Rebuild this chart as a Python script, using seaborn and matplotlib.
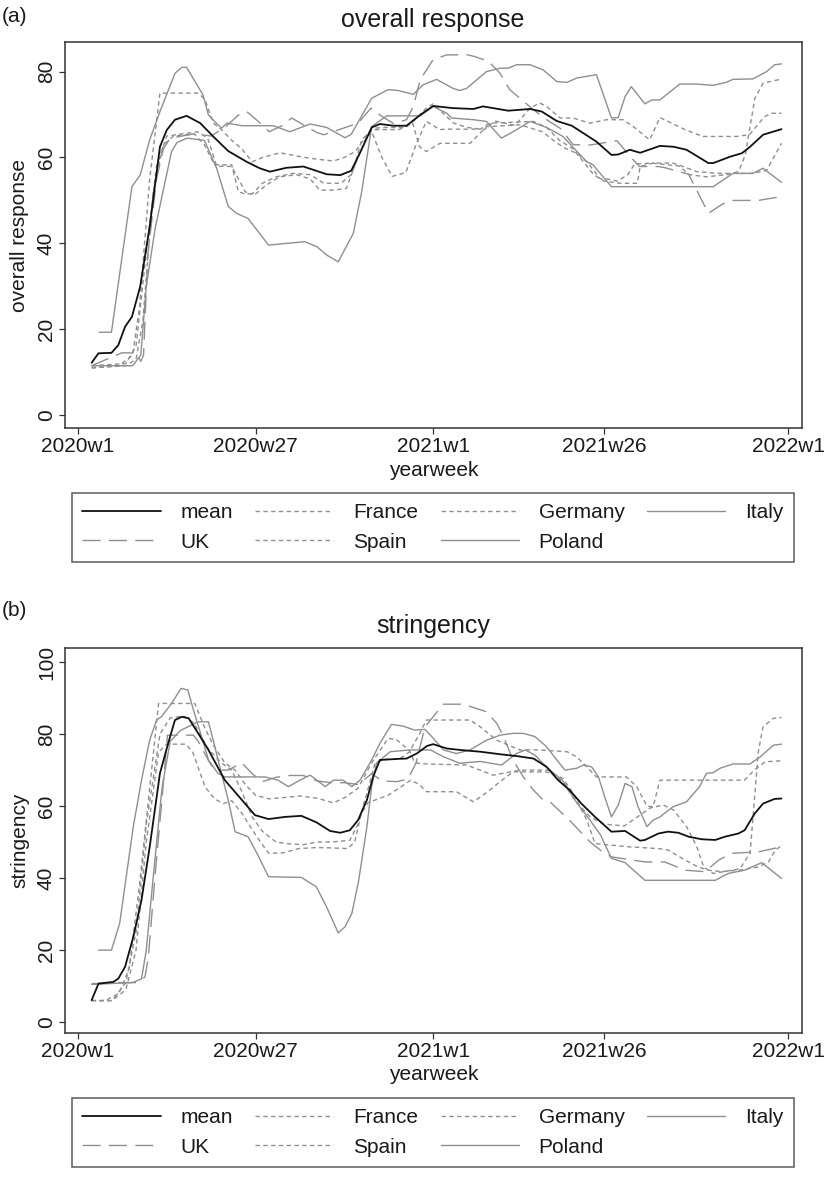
import matplotlib
matplotlib.use("Agg")
import matplotlib.pyplot as plt
import seaborn as sns
import pandas as pd

# ---------------- data (week index: 0 = 2020w1, 52 = 2021w1, 104 = 2022w1) ----------------
tick_weeks = [0, 26, 52, 77, 104]
tick_labels = ["2020w1", "2020w27", "2021w1", "2021w26", "2022w1"]
series_names = ["mean", "France", "Germany", "Italy", "UK", "Spain", "Poland"]

# panel (a): overall response
resp_mean_wk = [2, 3, 4.9, 5.9, 6.9, 7.9, 9.1, 10.5, 12, 13, 14.2, 15.9, 17.9, 19.8, 22, 24.7, 26.6, 28.1, 30.5, 33, 36.4, 38.4, 40, 41.5, 43, 44.2, 46.2, 48.1, 50.1, 52, 54.9, 57.9, 59.3, 63, 66.2, 67.9, 70.1, 72.3, 75.9, 78.1, 79.1, 80.8, 82.3, 85.2, 87.2, 89.1, 92.3, 93, 95.5, 97.2, 98.4, 100.3, 103]
resp_mean_val = [12.2, 14.4, 14.5, 16.3, 20.6, 22.9, 29.9, 43.9, 62.5, 66.4, 68.8, 69.7, 68.0, 64.9, 61.5, 59.0, 57.5, 56.7, 57.6, 57.9, 56.1, 55.9, 56.9, 61.8, 67.0, 67.8, 67.4, 67.4, 69.9, 72.0, 71.5, 71.3, 71.9, 70.9, 71.3, 70.7, 68.5, 67.4, 63.7, 60.6, 60.7, 61.8, 61.1, 62.7, 62.5, 61.8, 58.7, 58.7, 60.2, 61.0, 62.5, 65.3, 66.6]

resp_italy_wk = [3.1, 4.9, 7.9, 9.1, 10.5, 12, 14.2, 15.2, 15.9, 18.3, 19.1, 21, 21.8, 24, 28.6, 31, 34, 36.4, 39.1, 40, 43, 45.4, 46.9, 49.1, 50.5, 52.5, 54.9, 55.9, 56.9, 59.8, 61.8, 63, 64.2, 66.2, 68.1, 70.1, 71.6, 73, 75.9, 78.1, 79.1, 80.1, 81, 83, 84, 85.2, 88.1, 90.6, 93, 94.9, 95.9, 98.8, 100.8, 102, 103]
resp_italy_val = [19.3, 19.3, 53.2, 55.9, 64.1, 70.7, 79.6, 81, 81, 74.6, 69.9, 66.8, 68, 67.4, 67.4, 66, 67.8, 67, 64.6, 65.4, 73.8, 75.8, 75.6, 74.7, 76.9, 78.2, 76.1, 75.6, 76.1, 80, 80.8, 80.8, 81.6, 81.6, 80.4, 77.7, 77.5, 78.5, 79.3, 69.2, 69.3, 74.2, 76.5, 72.5, 73.4, 73.4, 77.1, 77.1, 76.8, 77.5, 78.2, 78.3, 80, 81.6, 81.8]

resp_poland_wk = [2, 8, 9.2, 10, 11.3, 13.7, 14.5, 16, 18.5, 20.3, 22, 23.2, 24.9, 27.9, 33.2, 35, 36.4, 38.1, 40.3, 41.5, 43, 45.2, 50.1, 52, 54, 54.7, 57.9, 59.8, 62, 63.7, 66.2, 68.6, 71, 74.5, 75.4, 78.1, 93, 95.9, 98.8, 100.3, 103]
resp_poland_val = [11.5, 11.5, 14, 30, 43.5, 61.4, 63.5, 64.5, 64, 57.5, 48.6, 47, 45.8, 39.6, 40.4, 39.2, 37.3, 35.7, 42.3, 51.7, 67.2, 69.7, 69.7, 71.9, 70.3, 69.2, 68.8, 68.4, 64.5, 66, 68.4, 67, 64.9, 59, 58.3, 53.2, 53.2, 56.3, 56.3, 57.5, 54.2]

resp_uk_wk = [2, 6.4, 8.5, 9.2, 9.6, 10.2, 11.5, 12.5, 13.5, 17, 19.5, 21.5, 23.5, 24.7, 26.4, 28, 30, 31.3, 33, 35, 36, 38.8, 41, 42.9, 44.2, 46.2, 48.1, 49.1, 50.1, 52, 54, 57.1, 58.1, 60.1, 61.8, 63.2, 64.7, 66.7, 68.6, 70.6, 72.5, 74.9, 78.9, 81.1, 82.2, 85, 86, 89.4, 92.3, 94.2, 95.5, 99.6, 103]
resp_uk_val = [11.5, 14.5, 14.5, 12.5, 14, 37, 55, 62, 64.5, 65.5, 65, 67, 69.9, 70.7, 68.4, 66, 67.5, 69.2, 67.6, 65.8, 65.3, 66.8, 68, 71.5, 69.9, 67.9, 68.8, 71.9, 78.1, 82.8, 83.9, 83.9, 83.5, 82.4, 79.6, 75.8, 73.8, 71.1, 68.8, 66.8, 63, 62.9, 63.9, 59.8, 57.9, 57.9, 57.6, 56.1, 47, 49, 50, 50, 50.9]

resp_france_wk = [2, 6, 8, 9, 10.5, 12, 17.6, 18.6, 19.8, 21, 22.5, 24, 25.5, 27, 29.6, 32.5, 35, 37.4, 39, 40.6, 43, 45, 48, 49.5, 51, 52, 53, 55, 57, 59.5, 61, 64, 66.2, 67.6, 68.6, 70.6, 72.5, 74.9, 77.4, 79.8, 81.3, 83.7, 85.2, 89, 91.5, 96.4, 98.3, 100.5, 101.5, 103]
resp_france_val = [11, 11.5, 14, 25, 55, 75, 75, 73.5, 68, 66.5, 64, 62, 59, 60, 61.1, 60.2, 59.6, 59.2, 60, 61.4, 66.8, 67, 67, 69, 71.5, 72.5, 71, 68, 67, 66.5, 68.5, 67.5, 71.5, 72.7, 71.9, 69.2, 69.2, 68, 68.8, 68.8, 67.2, 64.1, 69.3, 66.4, 64.9, 64.9, 65.3, 69.5, 70.3, 70.3]

resp_germany_wk = [2, 7, 8.5, 10, 11.5, 13, 17.5, 19, 20.3, 22.5, 23.5, 24.5, 25.5, 27, 29, 31.5, 34, 36, 38.5, 40, 42, 43, 44.5, 46, 48, 49.5, 51, 53, 54, 58.9, 60.3, 66.7, 68.6, 70.5, 72.5, 74, 75.5, 77, 79.3, 81.9, 82.3, 84.2, 87.1, 88.6, 90.6, 93.9, 98.8, 100.8, 103]
resp_germany_val = [11.5, 12, 16, 38, 58, 65, 66, 64.5, 58, 57.9, 55, 52, 51.5, 54, 55.5, 56.3, 56, 54, 54, 56, 64, 66, 60, 55.6, 56.5, 63, 68.4, 66.5, 66.6, 66.6, 68, 68.4, 67, 64, 62, 59, 56, 54.5, 54, 54, 57.9, 58.7, 58.7, 57.9, 56.7, 56.3, 56.3, 57, 63.3]

resp_spain_wk = [2, 7, 8.5, 9.5, 11, 12.5, 14, 17, 18.5, 20, 22.5, 23.5, 24.5, 26, 27.5, 29.5, 32, 34, 35.4, 37.4, 39.3, 40.5, 41.5, 43, 47, 49, 50, 51, 53, 57.4, 59.8, 64.7, 66, 68, 70, 71.5, 73, 74.5, 75.5, 76.5, 77.5, 79, 80.5, 81.5, 84, 88, 89.5, 92, 95, 96.7, 97.7, 99.1, 100.3, 102.5, 103]
resp_spain_val = [11, 11.5, 13, 22, 52, 63, 65, 65.5, 63, 58.3, 58.3, 52, 51.5, 51.5, 53.5, 55.5, 56, 55, 52.4, 52.4, 52.8, 58, 64, 66.5, 66.5, 68, 62.5, 61.4, 63.3, 63.3, 67.2, 67.6, 67, 66, 63.5, 62, 61, 59, 57, 55, 55, 54.5, 56, 58.5, 58.7, 58, 56, 55.5, 56, 56.7, 60.6, 73.8, 77.3, 78.1, 78.1]

# panel (b): stringency
str_mean_wk = [2, 3, 5.2, 5.9, 6.9, 8.1, 9.3, 10.5, 12, 13.2, 14.2, 15.2, 16.2, 17.6, 19.1, 21.5, 24, 25.9, 27.9, 30.3, 32.7, 34.9, 36.9, 38.4, 39.8, 41, 42.3, 43.2, 44.2, 46.7, 48.1, 49.6, 51.1, 52, 54, 55.9, 58.9, 61.8, 64.2, 66.7, 68.6, 70.3, 72, 73.7, 75.7, 78.1, 80.1, 82.3, 83, 85, 86.4, 87.9, 89.4, 91.3, 93.3, 94.7, 96.7, 97.6, 99.1, 100.3, 102, 103]
str_mean_val = [6.1, 10.7, 11.2, 12.1, 15.4, 23.7, 33.9, 48.7, 69.1, 77.4, 83.9, 84.8, 84.4, 80.2, 75.6, 67.2, 61.7, 57.5, 56.4, 57, 57.3, 55.5, 53.1, 52.6, 53.3, 56.1, 61.7, 68.1, 72.8, 73.1, 73.2, 74.6, 76.7, 77.2, 76, 75.6, 75.1, 74.4, 73.9, 73.2, 70.9, 67.2, 64.4, 60.7, 57, 52.9, 53.1, 50.4, 50.6, 52.4, 52.9, 52.6, 51.5, 50.8, 50.6, 51.5, 52.4, 53.3, 58, 60.7, 62, 62.1]

str_italy_wk = [3, 4.9, 6.1, 8.1, 9.3, 10.5, 11.5, 12.2, 13.7, 15.1, 16.1, 16.9, 18.1, 19.1, 20.5, 21.5, 27.4, 29.3, 30.8, 32.5, 34, 36.2, 37.4, 38.8, 40.1, 41.3, 43, 44.2, 45.9, 47.6, 49.3, 50.8, 51.8, 53.5, 55.4, 57.4, 59.8, 61.8, 63.7, 65.2, 66.9, 68.6, 70.1, 71.3, 73, 74, 75.2, 76.2, 77.2, 78.1, 79.1, 80.1, 81.1, 82, 83.3, 84.2, 85.2, 87.1, 89.1, 91, 92, 93, 94, 95.9, 98.4, 99.9, 101.8, 103]
str_italy_val = [20, 20, 27.4, 54.3, 67.2, 78.3, 83.9, 84.8, 88.5, 92.7, 92.2, 86.7, 79.3, 72.8, 69.1, 68.1, 68.1, 67.2, 65.4, 67.2, 68.6, 65.4, 67.2, 67.2, 65.4, 67.2, 72.8, 77.4, 82.7, 82.2, 81.1, 81.3, 79.3, 75.6, 74.6, 75.6, 78.3, 79.7, 80.2, 80.2, 79.3, 76.5, 72.8, 70, 70.5, 71.4, 70.9, 68.1, 62.1, 57, 60.3, 66.3, 65.4, 59.8, 54.3, 56.1, 57, 59.8, 61.2, 65.4, 69.1, 69.3, 70.5, 71.7, 71.7, 73.7, 76.9, 77.2]

str_poland_wk = [2, 8, 9.3, 10, 11, 12.3, 13.5, 15, 17.6, 19.1, 19.8, 21, 22, 23, 24.9, 26.2, 27.9, 32.7, 34.9, 36.4, 38.1, 39.1, 40.1, 41.1, 42.3, 43, 43.7, 45.7, 48.6, 51.6, 53.5, 55.9, 58.9, 62, 64.2, 65.5, 67, 68.5, 71, 73, 75, 76.5, 78.1, 80.1, 83, 93.3, 95.2, 97.6, 100.1, 103]
str_poland_val = [10.5, 11, 12, 20, 40, 65, 78, 81, 83.4, 83.4, 78.3, 69.1, 61.7, 52.9, 51.5, 46.9, 40.4, 40.2, 37.6, 32, 24.8, 26.5, 30.2, 39.4, 54.3, 65.4, 71.9, 75.1, 75.6, 75.6, 73.7, 71.9, 72.4, 71.4, 74.6, 75.6, 74, 71, 67, 61, 56, 52, 45.5, 44.3, 39.4, 39.4, 41.3, 42.2, 44.3, 39.9]

str_uk_wk = [2, 5.2, 8.6, 9.8, 10.3, 11.3, 12.3, 13.1, 16.9, 17.6, 19.3, 20, 22, 24, 25.5, 27, 29, 31, 33, 35, 37, 39, 41, 43, 44.5, 46.7, 48.3, 49.5, 50.8, 53.5, 56.4, 59.8, 61.3, 62.3, 63.7, 65.2, 66.7, 68.1, 69.1, 72, 75, 77, 78.1, 83, 85.9, 88.9, 91.8, 93.8, 95.7, 99.6, 103]
str_uk_val = [10.7, 11, 11, 12.5, 18, 41, 62, 79.7, 79.7, 78, 72, 70, 70, 72, 69, 66.8, 68, 68.5, 68.5, 67, 66.5, 66.5, 66, 69, 67, 66.8, 67.5, 72, 82, 88.3, 88.3, 86.2, 83, 79.3, 72.8, 68.1, 64.4, 61.7, 61.2, 56, 50, 47, 45.9, 44.5, 44.5, 42.2, 41.8, 45, 46.9, 47.3, 48.7]

str_france_wk = [2, 4, 6, 7.5, 9, 10.5, 11.8, 17.1, 18.5, 19.8, 21.5, 23, 24.5, 26, 28, 32.5, 35, 37.4, 39.2, 41, 43, 45.4, 46.6, 48.5, 49.3, 51, 56.9, 60.8, 64.7, 69.1, 71, 73, 75, 77, 80, 83.8, 85.7, 87.2, 89.1, 90.6, 91.6, 93, 96.9, 98.4, 99.6, 100.3, 101.8, 103]
str_france_val = [6, 6, 8, 15, 38, 65, 88.5, 88.5, 82, 77, 72, 70, 66, 63, 62, 62.8, 62.2, 60.9, 62.5, 65, 72, 78.8, 78.5, 75.5, 72, 71.7, 71.4, 68.6, 70, 70, 66.5, 61, 57, 55, 54.5, 59.5, 60.3, 58.9, 54.3, 48.7, 43.1, 41.3, 42.6, 46.9, 75, 82, 84.4, 84.6]

str_germany_wk = [2, 5, 7, 8.5, 10, 12, 13.5, 15.5, 17, 19, 21, 22.5, 24, 25.5, 27, 29, 31, 33, 35, 37.5, 39.8, 41, 42.5, 43.5, 45, 47, 48.5, 50, 51, 57.4, 58.9, 61.3, 64.7, 67.2, 71.6, 73, 74.5, 75.9, 80.3, 81.8, 83.3, 84.2, 85.2, 97.6, 99, 100.6, 103]
str_germany_val = [6, 6, 11, 25, 55, 80, 84.5, 85, 83, 76, 72, 70, 64, 57, 53, 50, 49.5, 49.3, 50, 50.1, 50.5, 55, 65, 72, 73, 73, 75, 80, 83.9, 83.9, 82, 78.3, 75.6, 75.6, 75.1, 73.7, 70.9, 68.1, 68.1, 65.4, 60, 59.8, 67.2, 67.2, 70, 72.3, 72.6]

str_spain_wk = [2, 5, 7, 8.5, 10, 11.8, 13, 15.8, 16.8, 18.6, 20, 21.3, 22.5, 24, 26, 27.9, 30, 32.3, 35, 37, 39.5, 40.5, 41.5, 42.5, 45.4, 47, 48.7, 50, 51, 55.4, 57.9, 60, 61.8, 63.7, 68.6, 71, 72.5, 74.5, 75.7, 80.6, 85, 86.4, 88.9, 90.8, 92.3, 94.2, 96.7, 99.6, 101.1, 102.1, 103]
str_spain_val = [6, 6, 9, 20, 50, 75, 77.2, 77.2, 75, 65.4, 62, 60.7, 61.5, 58, 52, 46.9, 47, 48.2, 48.5, 48.4, 48.2, 50, 58, 61, 63, 65, 67.2, 66, 64, 64, 61.2, 64, 66.8, 69.5, 69.5, 67.7, 63.5, 56.1, 49.6, 48.7, 48.2, 47.8, 45, 43.1, 42.2, 41.8, 42.2, 43.1, 44.5, 47.8, 49]

# ---------------- styling ----------------
sns.set_theme(style="ticks")
plt.rcParams['font.family'] = ['Liberation Sans', 'DejaVu Sans']
TXT = "#1a1a1a"
GRAY = "#8f8f8f"
SHORT = (0, (3.2, 2.4))
LONG = (0, (13, 6))
style_of = {
    "mean": ("#111111", "-", 1.3),
    "France": (GRAY, SHORT, 1.0),
    "Germany": (GRAY, SHORT, 1.0),
    "Italy": (GRAY, "-", 1.0),
    "UK": (GRAY, LONG, 1.0),
    "Spain": (GRAY, SHORT, 1.0),
    "Poland": (GRAY, "-", 1.0),
}
FS = 15

W, H = 828, 1180
fig = plt.figure(figsize=(W / 100, H / 100), dpi=100)
ax1 = fig.add_axes([65 / W, 1 - 428 / H, 737 / W, 386 / H])
ax2 = fig.add_axes([65 / W, 1 - 1033 / H, 737 / W, 385 / H])

panels = [
    (ax1, {"mean": (resp_mean_wk, resp_mean_val), "France": (resp_france_wk, resp_france_val),
           "Germany": (resp_germany_wk, resp_germany_val), "Italy": (resp_italy_wk, resp_italy_val),
           "UK": (resp_uk_wk, resp_uk_val), "Spain": (resp_spain_wk, resp_spain_val),
           "Poland": (resp_poland_wk, resp_poland_val)},
     "overall response", [0, 20, 40, 60, 80], (-3, 86.9), "(a)", 17, 20, 428, 386),
    (ax2, {"mean": (str_mean_wk, str_mean_val), "France": (str_france_wk, str_france_val),
           "Germany": (str_germany_wk, str_germany_val), "Italy": (str_italy_wk, str_italy_val),
           "UK": (str_uk_wk, str_uk_val), "Spain": (str_spain_wk, str_spain_val),
           "Poland": (str_poland_wk, str_poland_val)},
     "stringency", [0, 20, 40, 60, 80, 100], (-3, 103.9), "(b)", 611, 626, 1033, 385),
]

for ax, data, name, yt, ylim, tag, tag_y, title_y, frame_bottom, ax_h in panels:
    handles = {}
    draw_order = ["France", "Germany", "Italy", "UK", "Spain", "Poland", "mean"]
    for s in draw_order:
        wk, val = data[s]
        df = pd.DataFrame({"week": wk, "value": val})
        col, ls, lw = style_of[s]
        sns.lineplot(data=df, x="week", y="value", ax=ax, color=col, linestyle=ls,
                     linewidth=lw, estimator=None, sort=False, legend=False)
        handles[s] = ax.lines[-1]
    ax.set_xlim(-1.9, 106)
    ax.set_ylim(*ylim)
    ax.set_xticks(tick_weeks)
    ax.set_xticklabels(tick_labels, fontsize=FS, color=TXT)
    ax.set_yticks(yt)
    ax.set_yticklabels([str(v) for v in yt], rotation=90, va="center", fontsize=FS, color=TXT)
    ax.tick_params(direction="out", length=4.5, width=0.9, color="#333333", pad=2)
    for sp in ax.spines.values():
        sp.set_color("#333333")
        sp.set_linewidth(1.1)
    ax.set_xlabel("yearweek", fontsize=FS, color=TXT)
    ax.xaxis.label.set_va("center")
    ax.xaxis.set_label_coords(0.5, -42 / ax_h)
    ax.set_ylabel(name, fontsize=FS, color=TXT)
    ax.yaxis.label.set_va("center")
    ax.yaxis.set_label_coords(-45 / 737, 0.5)
    ax.grid(False)
    fig.text(433 / W, 1 - title_y / H, name, ha="center", va="center", fontsize=18, color=TXT)
    fig.text(2 / W, 1 - tag_y / H, tag, ha="left", va="center", fontsize=FS, color=TXT)
    order = ["mean", "UK", "France", "Spain", "Germany", "Poland", "Italy"]
    leg_top = frame_bottom + 66
    leg = fig.legend([handles[s] for s in order], order, ncol=4, loc="upper left",
                     bbox_to_anchor=(72 / W, 1 - leg_top / H, 722 / W, 0.001), mode="expand",
                     frameon=True, fancybox=False, edgecolor="#333333", fontsize=FS,
                     handlelength=3.75, handletextpad=0.95, borderaxespad=0, borderpad=0.5,
                     labelspacing=0.5)
    leg.get_frame().set_linewidth(1.1)
    for t in leg.get_texts():
        t.set_color(TXT)

fig.savefig("out.png", dpi=100, facecolor="white")
